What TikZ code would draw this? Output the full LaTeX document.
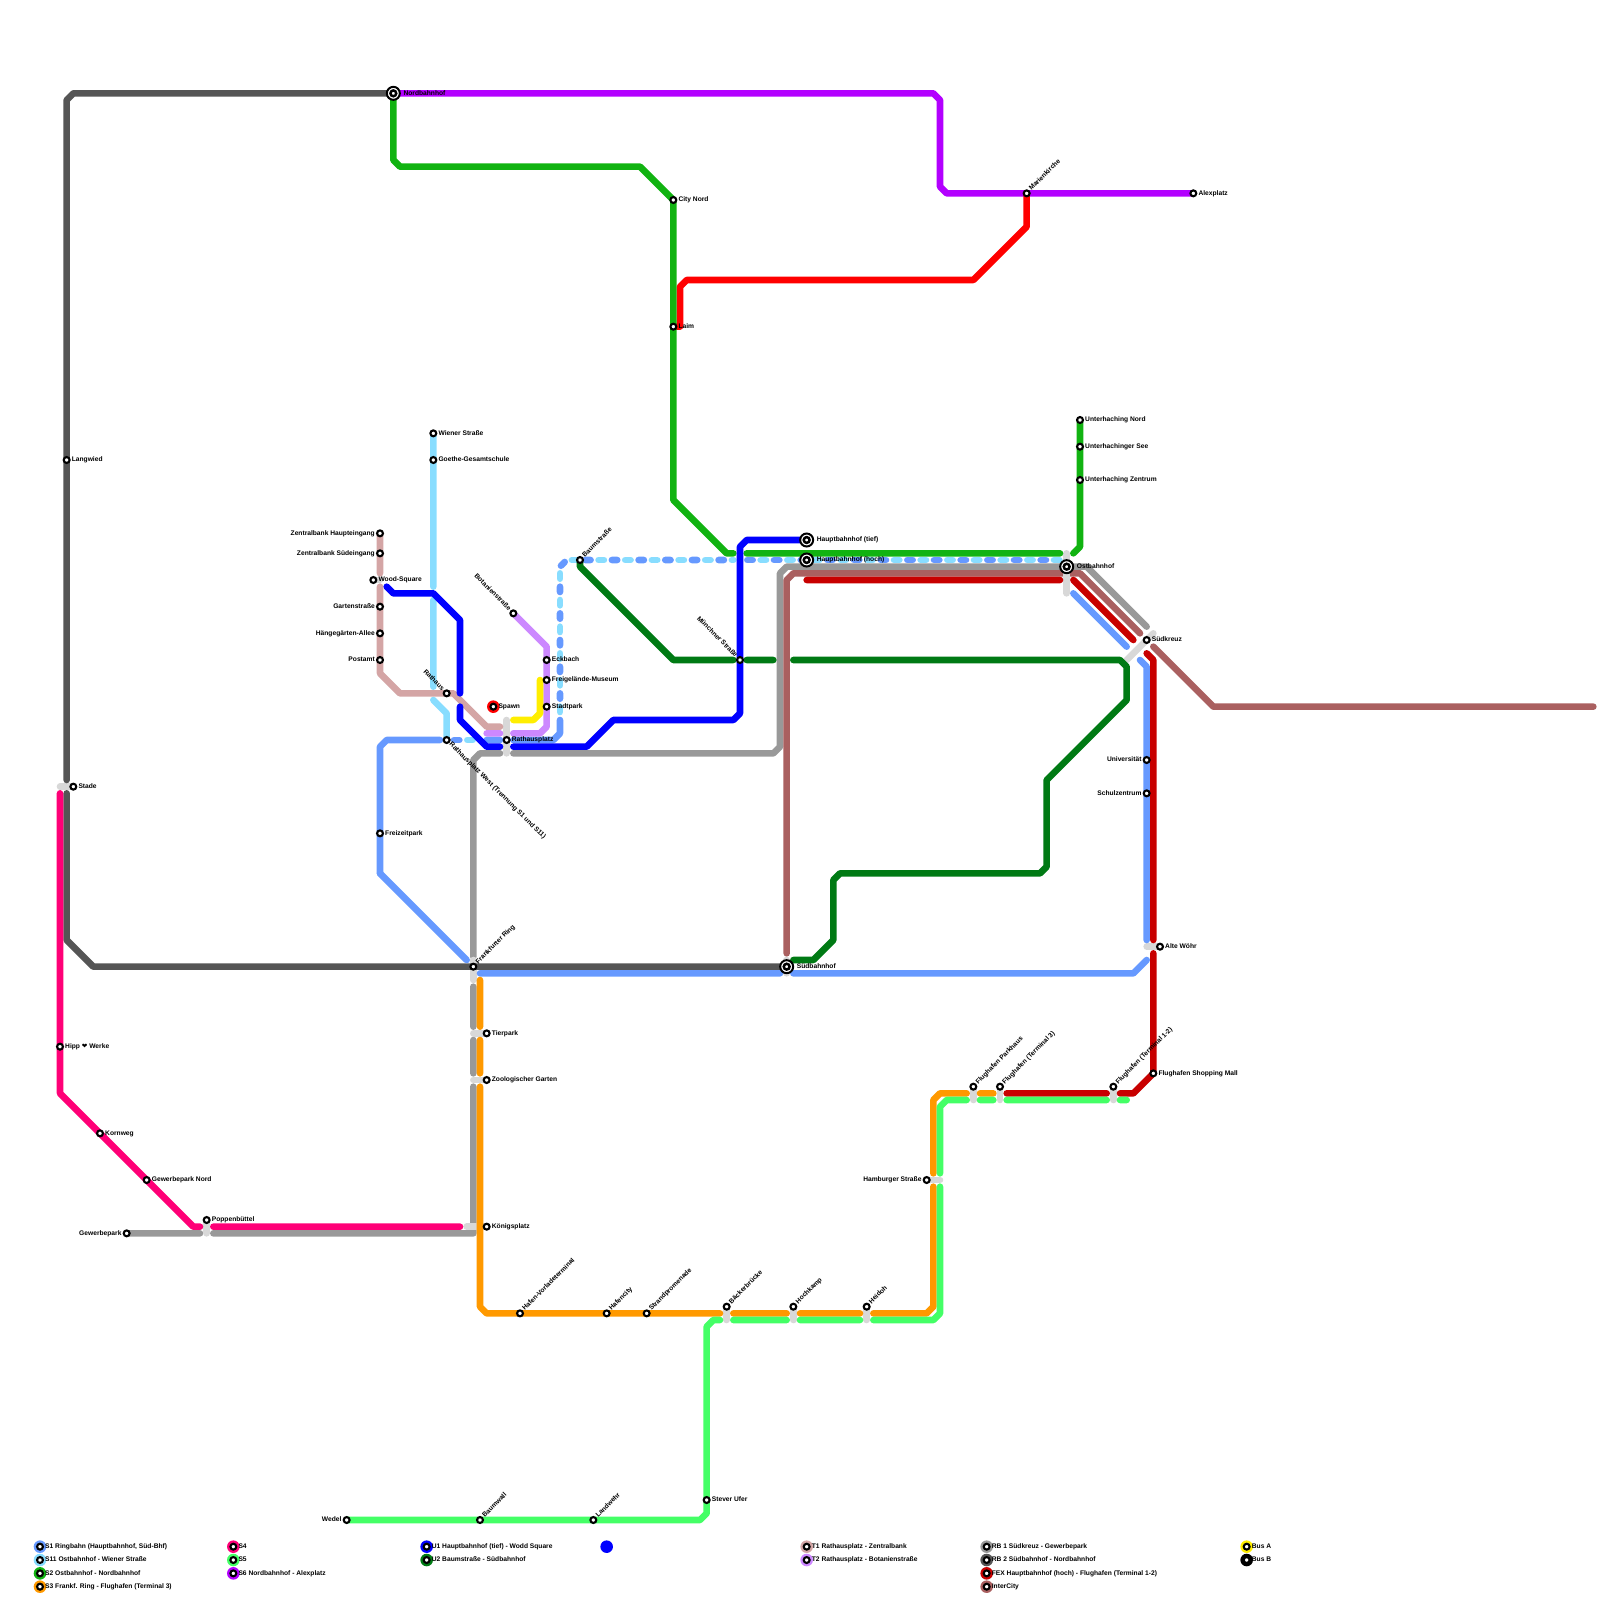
\documentclass[tikz,border=0pt]{standalone}
\usepackage{fontspec}
\setmainfont{Liberation Sans}
\newfontfamily\heartfont{DejaVu Sans}
\definecolor{cSa}{HTML}{6699FF}
\definecolor{cSb}{HTML}{88DDFF}
\definecolor{cSz}{HTML}{11B311}
\definecolor{cSd}{HTML}{FF9900}
\definecolor{cSv}{HTML}{FF0077}
\definecolor{cSf}{HTML}{44FF66}
\definecolor{cSs}{HTML}{B300FF}
\definecolor{cUa}{HTML}{0000FF}
\definecolor{cUb}{HTML}{007A14}
\definecolor{cTa}{HTML}{D4A5A5}
\definecolor{cTb}{HTML}{CC88FF}
\definecolor{cRa}{HTML}{999999}
\definecolor{cRb}{HTML}{555555}
\definecolor{cFx}{HTML}{C80000}
\definecolor{cIc}{HTML}{AA6060}
\definecolor{cBa}{HTML}{FFEE00}
\definecolor{cBb}{HTML}{000000}
\definecolor{cRd}{HTML}{FF0000}
\definecolor{cCn}{HTML}{D8D8D8}
\tikzset{
  rail/.style={line width=6.6pt,line cap=round,line join=round},
  link/.style={rail,draw=cCn},
  dashA/.style={rail,dash pattern=on 5.333pt off 21.333pt},
  stn/.style={circle,draw=black,fill=white,line width=2.1pt,minimum size=5.9pt,inner sep=0pt},
  bigouter/.style={circle,draw=black,fill=white,line width=2pt,minimum size=13pt,inner sep=0pt},
  biginner/.style={circle,draw=black,fill=white,line width=2.5pt,minimum size=5.8pt,inner sep=0pt},
  lbl/.style={font=\bfseries\fontsize{6.67}{8}\selectfont,inner sep=0pt,text height=4.9pt,text depth=1.4pt,text=black},
  R/.style={anchor=west,xshift=5pt},
  RB/.style={anchor=west,xshift=10pt},
  L/.style={anchor=east,xshift=-5pt},
  UR/.style={anchor=west,rotate=45,xshift=5pt},
  DR/.style={anchor=west,rotate=-45,xshift=5pt},
  UL/.style={anchor=east,rotate=-45,xshift=-5pt},
  legdot/.style={circle,minimum size=12.6pt,inner sep=0pt},
}
\newcommand{\stnode}[5]{\node[stn] (#1) at (#2,#3) {};\node[lbl,#4] (#1-t) at (#2,#3) {#5};}
\newcommand{\bignode}[5]{\node[bigouter] (#1) at (#2,#3) {};\node[biginner] (#1-i) at (#2,#3) {};\node[lbl,#4] (#1-t) at (#2,#3) {#5};}
\newcommand{\legnode}[5]{\node[legdot,fill=#4] (#1-d) at (#2,#3) {};\node[stn] (#1) at (#2,#3) {};\node[lbl,R] (#1-t) at (#2,#3) {#5};}
\begin{document}
\begin{tikzpicture}[x=6.6667pt,y=-6.6667pt]
\useasboundingbox (0,0) rectangle (240,240);
% named places on the lines
\coordinate (pNord) at (59,14);
\coordinate (pLaim) at (101,49);
\coordinate (pCity) at (101,30);
\coordinate (pMar) at (154,29);
\coordinate (pAlex) at (179,29);
\coordinate (pWien) at (65,65);
\coordinate (pZH) at (57,80);
\coordinate (pRW) at (67,111);
\coordinate (pBot) at (77,92);
\coordinate (pHt) at (121,81);
\coordinate (pUN) at (162,63);
\coordinate (pMu) at (111,99);
\coordinate (pFr) at (71,145);
\coordinate (pSu) at (118,145);
\coordinate (pBaum) at (87,84);
\coordinate (pGew) at (19,185);
\coordinate (pWed) at (52,228);
% lines under the interchange links
\draw[rail,cRa] (172,94)--(163,85)--(118,85)--(117,86)--(117,112)--(116,113)--(77,113)
  (75,113)--(72,113)--(71,114)--(71,143.5)
  (71,148)--(71,154) (71,156)--(71,161)
  (71,163)--(71,185)--(32,185) (30,185)--(pGew);
\draw[rail,cIc] (239,106)--(182,106)--(173,97) (171,95)--(162,86)--(119,86)--(118,87)--(118,143);
% interchange links
\draw[link] (160,83)--(160,89);
\draw[link] (169,99)--(173,95);
\draw[link] (118,144)--(118,146);
\draw[link] (172,142)--(174,142);
\draw[link] (139,177)--(141,177);
\draw[link] (146,163)--(146,165);
\draw[link] (150,163)--(150,165);
\draw[link] (167,163)--(167,165);
\draw[link] (109,196)--(109,198);
\draw[link] (119,196)--(119,198);
\draw[link] (130,196)--(130,198);
\draw[link] (76,108)--(76,113);
\draw[link] (56,87)--(57,87);
\draw[link] (71,144)--(71,147);
\draw[link] (71,155)--(73,155);
\draw[link] (71,162)--(73,162);
\draw[link] (70,184)--(73,184);
\draw[link] (9,118)--(11,118);
\draw[link] (31,183)--(31,185);
% lines
\draw[rail,cRb] (pNord)--(11,14)--(10,15)--(10,117) (10,119)--(10,141)--(14,145)--(pSu);
\draw[rail,cSv] (9,119)--(9,164)--(29,184)--(30,184) (32,184)--(69,184);
\draw[rail,cSs] (pNord)--(140,14)--(141,15)--(141,28)--(142,29)--(pAlex);
\draw[rail,cRd] (pMar)--(154,34)--(146,42)--(103,42)--(102,43)--(102,49)--(pLaim);
\draw[rail,cSz] (pNord)--(59,24)--(60,25)--(96,25)--(pCity)--(101,75)--(109,83)--(110,83)
  (112,83)--(159,83) (161,83)--(162,82)--(pUN);
% S1 and S11
\draw[rail,cSa] (57,131)--(70,144);
\draw[rail,cSa] (57,131)--(57,112)--(58,111)--(66,111);
\draw[rail,cSa] (68.1,111)--(68.9,111);
\draw[rail,cSb] (70.1,111)--(70.9,111);
\draw[rail,cSa] (73,111)--(75,111) (77,111)--(83,111)--(84,110)--(84,108);
\draw[rail,cSb] (pWien)--(65,88) (65,90)--(65,103) (65,105)--(67,107)--(pRW);
\draw[dashA,cSa] (84,104.8)--(84,85)--(85,84)--(110,84);
\draw[dashA,cSb] (84,106.8)--(84,85)--(85,84)--(110,84);
\draw[dashA,cSa] (112.1,84)--(159,84);
\draw[dashA,cSb] (114.1,84)--(159,84);
\draw[rail,cSa] (161,89)--(169,97) (171,99)--(172,100)--(172,141) (172,144)--(170,146)--(119,146) (117,146)--(72,146);
% FEX
\draw[rail,cFx] (121,87)--(159,87) (161,87)--(170,96) (172,98)--(173,99)--(173,141)
  (173,143)--(173,161)--(170,164)--(168,164) (166,164)--(151,164);
% S3 and S5
\draw[rail,cSd] (72,147)--(72,154) (72,156)--(72,161) (72,163)--(72,196)--(73,197)--(108,197)
  (110,197)--(118,197) (120,197)--(129,197) (131,197)--(139,197)--(140,196)--(140,178)
  (140,176)--(140,165)--(141,164)--(145,164) (147,164)--(149,164);
\draw[rail,cSf] (169,165)--(168,165) (166,165)--(151,165) (149,165)--(147,165)
  (145,165)--(142,165)--(141,166)--(141,176) (141,178)--(141,197)--(140,198)--(131,198)
  (129,198)--(120,198) (118,198)--(110,198) (108,198)--(107,198)--(106,199)--(106,227)--(105,228)--(pWed);
% trams and bus
\draw[rail,cTa] (pZH)--(57,86) (57,88)--(57,101)--(60,104)--(68,104)--(73,109)--(75,109);
\draw[rail,cTb] (pBot)--(82,97)--(82,109)--(81,110)--(77,110) (75,110)--(73,110);
\draw[rail,cBa] (81,102)--(81,107)--(80,108)--(77,108);
% U lines
\draw[rail,cUb] (pBaum)--(87,85)--(101,99)--(110,99) (112,99)--(116,99) (119,99)--(168,99)--(169,100)--(169,105)
  --(157,117)--(157,130)--(156,131)--(126,131)--(125,132)--(125,141)--(122,144)--(119,144);
\draw[rail,cUa] (58,88)--(59,89)--(65,89)--(69,93)--(69,104) (69,106)--(69,108)--(73,112)--(75,112)
  (77,112)--(88,112)--(92,108)--(110,108)--(111,107)--(pMu)--(111,82)--(112,81)--(pHt);
% special stop and blue marker
\node[circle,fill=cRd,minimum size=12.6pt,inner sep=0pt] (spawnring) at (74,106) {};
% stations
\bignode{nord}{59}{14}{RB}{Nordbahnhof}
\bignode{hbft}{121}{81}{RB}{Hauptbahnhof (tief)}
\bignode{hbfh}{121}{84}{RB}{Hauptbahnhof (hoch)}
\bignode{ost}{160}{85}{RB}{Ostbahnhof}
\bignode{sued}{118}{145}{RB}{Südbahnhof}
\stnode{city}{101}{30}{R}{City Nord}
\stnode{laim}{101}{49}{R}{Laim}
\stnode{mar}{154}{29}{UR}{Marienkirche}
\stnode{alex}{179}{29}{R}{Alexplatz}
\stnode{wien}{65}{65}{R}{Wiener Straße}
\stnode{goethe}{65}{69}{R}{Goethe-Gesamtschule}
\stnode{lang}{10}{69}{R}{Langwied}
\stnode{zh}{57}{80}{L}{Zentralbank Haupteingang}
\stnode{zs}{57}{83}{L}{Zentralbank Südeingang}
\stnode{wood}{56}{87}{R}{Wood-Square}
\stnode{gart}{57}{91}{L}{Gartenstraße}
\stnode{haeng}{57}{95}{L}{Hängegärten-Allee}
\stnode{post}{57}{99}{L}{Postamt}
\stnode{rath}{67}{104}{UL}{Rathaus}
\stnode{spawn}{74}{106}{R}{Spawn}
\stnode{rplatz}{76}{111}{R}{Rathausplatz}
\stnode{rwest}{67}{111}{DR}{Rathausplatz West (Trennung S1 und S11)}
\stnode{bot}{77}{92}{UL}{Botanienstraße}
\stnode{eck}{82}{99}{R}{Eckbach}
\stnode{frei}{82}{102}{R}{Freigelände-Museum}
\stnode{stadt}{82}{106}{R}{Stadtpark}
\stnode{baum}{87}{84}{UR}{Baumstraße}
\stnode{una}{162}{63}{R}{Unterhaching Nord}
\stnode{unb}{162}{67}{R}{Unterhachinger See}
\stnode{unc}{162}{72}{R}{Unterhaching Zentrum}
\stnode{skreuz}{172}{96}{R}{Südkreuz}
\stnode{muen}{111}{99}{UL}{Münchner Straße}
\stnode{uni}{172}{114}{L}{Universität}
\stnode{schul}{172}{119}{L}{Schulzentrum}
\stnode{alte}{174}{142}{R}{Alte Wöhr}
\stnode{frank}{71}{145}{UR}{Frankfurter Ring}
\stnode{tier}{73}{155}{R}{Tierpark}
\stnode{zoo}{73}{162}{R}{Zoologischer Garten}
\stnode{koenig}{73}{184}{R}{Königsplatz}
\stnode{stade}{11}{118}{R}{Stade}
\stnode{freiz}{57}{125}{R}{Freizeitpark}
\stnode{hipp}{9}{157}{R}{Hipp {\heartfont ❤} Werke}
\stnode{korn}{15}{170}{R}{Kornweg}
\stnode{gewn}{22}{177}{R}{Gewerbepark Nord}
\stnode{popp}{31}{183}{R}{Poppenbüttel}
\stnode{gew}{19}{185}{L}{Gewerbepark}
\stnode{hafen}{78}{197}{UR}{Hafen-Vorladeterminal}
\stnode{hcity}{91}{197}{UR}{Hafencity}
\stnode{strand}{97}{197}{UR}{Strandpromenade}
\stnode{baeck}{109}{196}{UR}{Bäckerbrücke}
\stnode{hoch}{119}{196}{UR}{Hochkamp}
\stnode{heid}{130}{196}{UR}{Heidoh}
\stnode{hamb}{139}{177}{L}{Hamburger Straße}
\stnode{fpark}{146}{163}{UR}{Flughafen Parkhaus}
\stnode{fdrei}{150}{163}{UR}{Flughafen (Terminal 3)}
\stnode{fzwei}{167}{163}{UR}{Flughafen (Terminal 1-2)}
\stnode{fmall}{173}{161}{R}{Flughafen Shopping Mall}
\stnode{stever}{106}{225}{R}{Stever Ufer}
\stnode{wedel}{52}{228}{L}{Wedel}
\stnode{bwall}{72}{228}{UR}{Baumwall}
\stnode{land}{89}{228}{UR}{Landwehr}
% legend
\legnode{lga}{6}{232}{cSa}{S1 Ringbahn (Hauptbahnhof, Süd-Bhf)}
\legnode{lgb}{6}{234}{cSb}{S11 Ostbahnhof - Wiener Straße}
\legnode{lgc}{6}{236}{cSz}{S2 Ostbahnhof - Nordbahnhof}
\legnode{lgd}{6}{238}{cSd}{S3 Frankf. Ring - Flughafen (Terminal 3)}
\legnode{lge}{35}{232}{cSv}{S4}
\legnode{lgf}{35}{234}{cSf}{S5}
\legnode{lgg}{35}{236}{cSs}{S6 Nordbahnhof - Alexplatz}
\legnode{lgh}{64}{232}{cUa}{U1 Hauptbahnhof (tief) - Wodd Square}
\legnode{lgi}{64}{234}{cUb}{U2 Baumstraße - Südbahnhof}
\node[legdot,fill=cUa] (lgdot) at (91,232) {};
\legnode{lgj}{121}{232}{cTa}{T1 Rathausplatz - Zentralbank}
\legnode{lgk}{121}{234}{cTb}{T2 Rathausplatz - Botanienstraße}
\legnode{lgl}{148}{232}{cRa}{RB 1 Südkreuz - Gewerbepark}
\legnode{lgm}{148}{234}{cRb}{RB 2 Südbahnhof - Nordbahnhof}
\legnode{lgn}{148}{236}{cFx}{FEX Hauptbahnhof (hoch) - Flughafen (Terminal 1-2)}
\legnode{lgo}{148}{238}{cIc}{InterCity}
\legnode{lgp}{187}{232}{cBa}{Bus A}
\legnode{lgq}{187}{234}{cBb}{Bus B}
\end{tikzpicture}
\end{document}
